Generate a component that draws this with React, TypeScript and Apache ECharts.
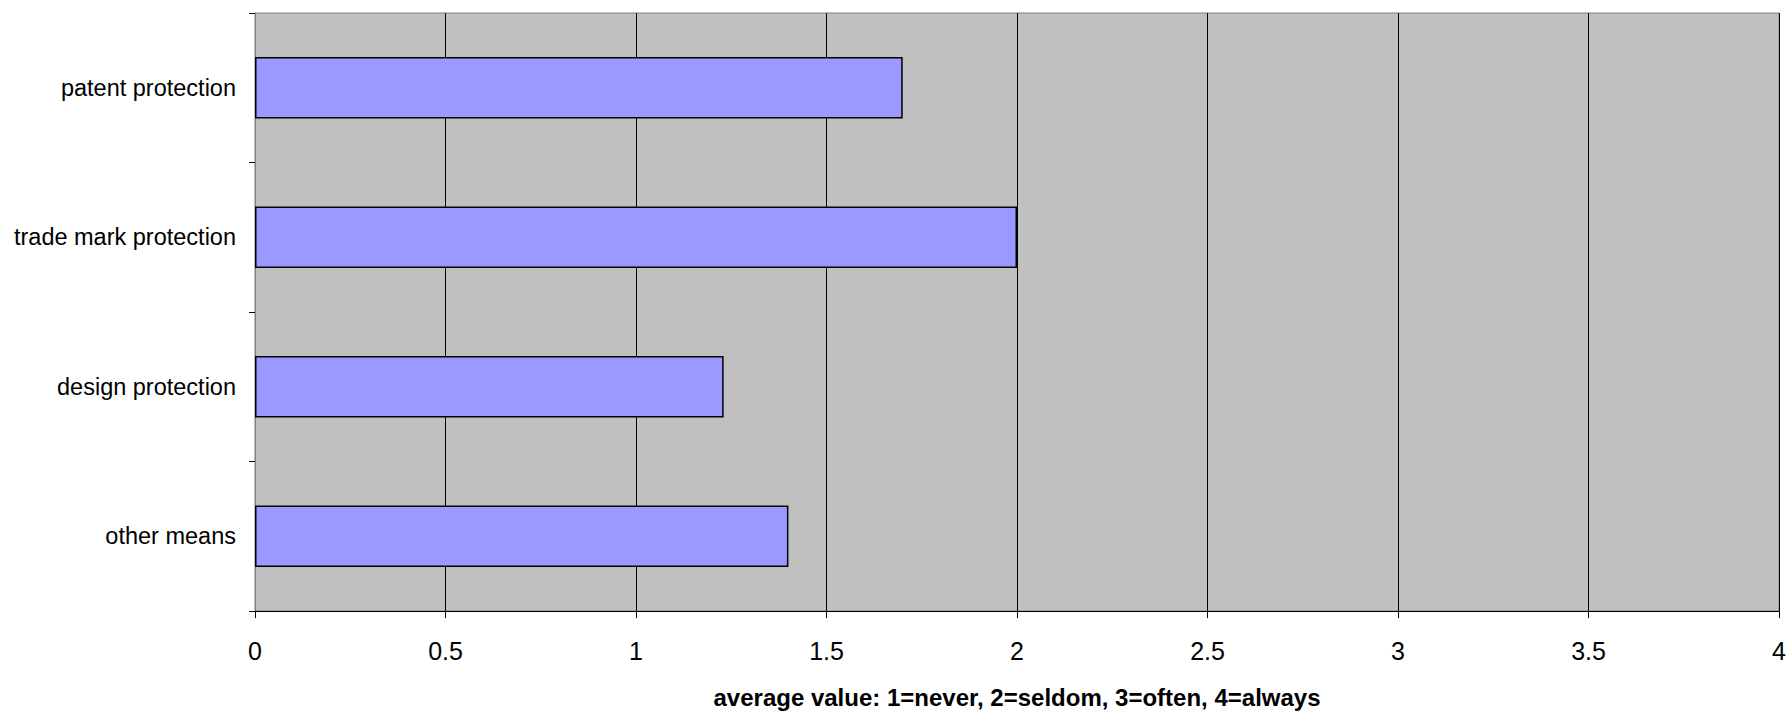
import React, { useEffect, useRef } from "react";
import * as echarts from "echarts";

const categories = ["patent protection", "trade mark protection", "design protection", "other means"];
const values = [1.7, 2.0, 1.23, 1.4];
const xTicks = [0, 0.5, 1, 1.5, 2, 2.5, 3, 3.5, 4];
const axisTitle = "average value: 1=never, 2=seldom, 3=often, 4=always";

export default function App() {
  const ref = useRef<HTMLDivElement>(null);
  useEffect(() => {
    if (!ref.current) return;
    const chart = echarts.init(ref.current, undefined, { renderer: "svg" });
    chart.setOption({
      animation: false,
      backgroundColor: "#ffffff",
      grid: {
        left: 255,
        right: 8,
        top: 13,
        bottom: 94,
        show: true,
        backgroundColor: "#C0C0C0",
        borderColor: "#808080",
        borderWidth: 1,
      },
      xAxis: {
        type: "value",
        min: xTicks[0],
        max: xTicks[xTicks.length - 1],
        interval: 0.5,
        axisLine: { show: true, lineStyle: { color: "#000000", width: 1 } },
        axisTick: { show: true, length: 7, lineStyle: { color: "#000000" } },
        axisLabel: {
          color: "#000000",
          fontFamily: "Liberation Sans, Arial, sans-serif",
          fontSize: 25,
          margin: 27,
          formatter: (v: number) => String(v),
        },
        splitLine: { show: true, lineStyle: { color: "#000000", width: 1 } },
        name: axisTitle,
        nameLocation: "middle",
        nameGap: 74,
        nameTextStyle: {
          color: "#000000",
          fontFamily: "Liberation Sans, Arial, sans-serif",
          fontSize: 24,
          fontWeight: "bold",
        },
      },
      yAxis: {
        type: "category",
        data: categories,
        inverse: true,
        axisLine: { show: true, lineStyle: { color: "#808080", width: 1 } },
        axisTick: { show: true, length: 6, lineStyle: { color: "#000000" } },
        axisLabel: {
          color: "#000000",
          fontFamily: "Liberation Sans, Arial, sans-serif",
          fontSize: 23.5,
          margin: 19,
          padding: [2, 0, 0, 0],
        },
        splitLine: { show: false },
      },
      series: [
        {
          type: "bar",
          data: values,
          barWidth: "41%",
          itemStyle: { color: "#9999FF", borderColor: "#000000", borderWidth: 1.5 },
        },
      ],
    });
    return () => chart.dispose();
  }, []);
  return (
    <div
      ref={ref}
      style={{ position: "fixed", left: 0, top: 0, width: 1789, height: 714 }}
    />
  );
}
